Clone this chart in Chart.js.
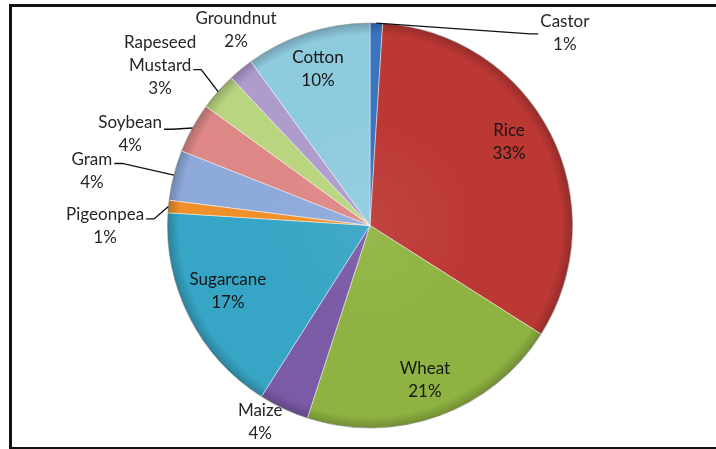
<!DOCTYPE html>
<html lang="en">
<head>
    <meta charset="UTF-8">
    <title>Crop Share</title>
    <style>
        body { margin: 0; background: #fff; }
        .frame {
            position: absolute; left: 9px; top: 4px; width: 720px; height: 440px;
            border: 3px solid #111; border-right: none;
        }
        #cropChart { position: absolute; left: 0; top: 0; }
    </style>
</head>
<body>
    <div class="frame"></div>
    <canvas id="cropChart" width="716" height="449"></canvas>
    <script src="https://cdn.jsdelivr.net/npm/chart.js"></script>
    <script>
const crops = ['Castor', 'Rice', 'Wheat', 'Maize', 'Sugarcane', 'Pigeonpea', 'Gram', 'Soybean', 'Rapeseed Mustard', 'Groundnut', 'Cotton'];
const shares = [1, 33, 21, 4, 17, 1, 4, 4, 3, 2, 10];
const sliceColors = ['#3a74bf', '#bc3835', '#8fb342', '#7b5aa6', '#37a5c5', '#f0902a', '#8eaadb', '#dd8886', '#b9d57f', '#ae9ccd', '#8fcbdf'];

// where each label block is centred: angle in degrees clockwise from
// 12 o'clock and distance from the centre in radii
const labelSpots = [
    { angle: 45.4, dist: 1.348, leader: true, hook: 0.35 },
    { angle: 58.9, dist: 0.80, inside: true },
    { angle: 160.5, dist: 0.81, inside: true },
    { angle: 209.2, dist: 1.109 },
    { angle: 245.4, dist: 0.77, inside: true },
    { angle: 269.8, dist: 1.305, leader: true, hook: 0 },
    { angle: 281.1, dist: 1.396, leader: true, hook: 0 },
    { angle: 290.8, dist: 1.264, leader: true, hook: 0.1 },
    { angle: 307.3, dist: 1.30, leader: true, hook: 1 },
    { angle: 325.6, dist: 1.168 },
    { angle: 341.6, dist: 0.812, inside: true }
];

const FONT = '17px Lato';
const LINE_H = 23;

function shade(hex, amt) {
    const n = parseInt(hex.slice(1), 16);
    let r = n >> 16, g = (n >> 8) & 255, b = n & 255;
    const t = amt > 0 ? 255 : 0, p = Math.abs(amt);
    r = Math.round(r + (t - r) * p);
    g = Math.round(g + (t - g) * p);
    b = Math.round(b + (t - b) * p);
    return `rgb(${r},${g},${b})`;
}

function pieGeometry(chart) {
    const a = chart.chartArea;
    return {
        cx: (a.left + a.right) / 2,
        cy: (a.top + a.bottom) / 2,
        r: Math.min(a.right - a.left, a.bottom - a.top) / 2
    };
}

// soft radial shading per slice, darker at the rim
function sliceFill(context) {
    const base = sliceColors[context.dataIndex];
    const chart = context.chart;
    if (!chart.chartArea) return base;
    const { cx, cy, r } = pieGeometry(chart);
    const g = chart.ctx.createRadialGradient(cx, cy, 0, cx, cy, r);
    g.addColorStop(0, shade(base, 0.06));
    g.addColorStop(0.5, base);
    g.addColorStop(0.94, base);
    g.addColorStop(1, shade(base, -0.22));
    return g;
}

const sliceLabels = {
    id: 'sliceLabels',
    afterDatasetsDraw(chart) {
        const ctx = chart.ctx;
        const arcs = chart.getDatasetMeta(0).data;
        const { cx, cy, r } = pieGeometry(chart);

        // thin darker rim round the whole pie
        ctx.save();
        ctx.beginPath();
        ctx.arc(cx, cy, r - 0.5, 0, Math.PI * 2);
        ctx.strokeStyle = 'rgba(0,0,0,0.25)';
        ctx.lineWidth = 1.2;
        ctx.stroke();

        ctx.font = FONT;
        ctx.textAlign = 'center';
        ctx.textBaseline = 'middle';

        arcs.forEach((arc, i) => {
            const spot = labelSpots[i];
            const mid = (arc.startAngle + arc.endAngle) / 2;
            const lines = crops[i].split(' ').concat(shares[i] + '%');
            const a = (spot.angle - 90) * Math.PI / 180;
            const lx = arc.x + Math.cos(a) * r * spot.dist;
            const ly = arc.y + Math.sin(a) * r * spot.dist;
            const top = ly - (lines.length - 1) * LINE_H / 2;

            if (spot.leader) {
                const ex = arc.x + Math.cos(mid) * arc.outerRadius;
                const ey = arc.y + Math.sin(mid) * arc.outerRadius;
                const hookRow = Math.min(Math.round(spot.hook), lines.length - 1);
                const w = ctx.measureText(lines[hookRow]).width;
                const hy = top + spot.hook * LINE_H + 4;
                const dir = lx < arc.x ? 1 : -1;
                const sx = lx + dir * (w / 2 + 2);
                ctx.beginPath();
                ctx.moveTo(ex, ey);
                ctx.lineTo(sx + dir * 8, hy);
                ctx.lineTo(sx, hy);
                ctx.strokeStyle = '#111';
                ctx.lineWidth = 1.4;
                ctx.stroke();
            }

            ctx.fillStyle = spot.inside ? '#161616' : '#262626';
            lines.forEach((t, k) => ctx.fillText(t, lx, top + k * LINE_H));
        });
        ctx.restore();
    }
};

const cropChart = new Chart(document.getElementById('cropChart'), {
    type: 'pie',
    data: {
        labels: crops,
        datasets: [{
            data: shares,
            backgroundColor: sliceFill,
            borderColor: 'rgba(255,255,255,0.45)',
            borderWidth: 1,
            hoverOffset: 0
        }]
    },
    options: {
        responsive: false,
        animation: false,
        events: [],
        layout: { padding: { left: 167, right: 143, top: 22, bottom: 20 } },
        plugins: {
            legend: { display: false },
            tooltip: { enabled: false }
        }
    },
    plugins: [sliceLabels]
});
    </script>
</body>
</html>
